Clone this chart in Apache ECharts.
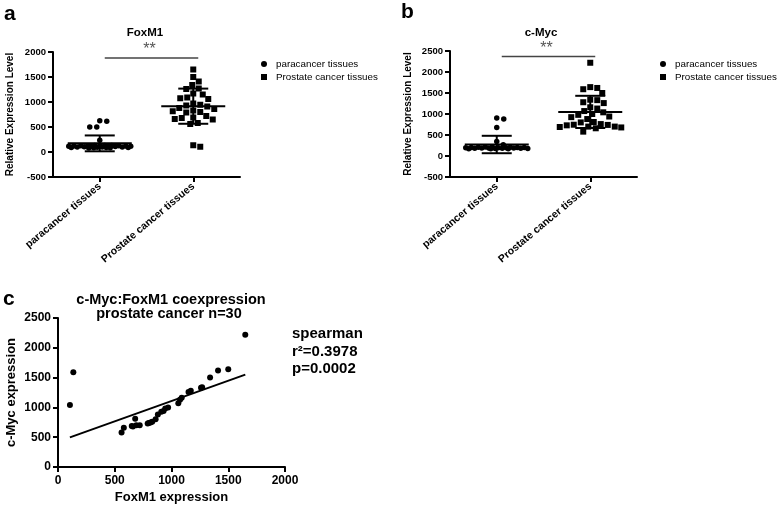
<!DOCTYPE html>
<html><head><meta charset="utf-8">
<script src="https://cdn.jsdelivr.net/npm/echarts@6/dist/echarts.min.js"></script>
<style>html,body{margin:0;padding:0;background:#fff}#c{width:778px;height:505px}</style>
</head><body><div id="c"></div>
<script>
// ---------------- data ----------------
const categories = ['paracancer tissues', 'Prostate cancer tissues'];
const legendNames = ['paracancer tissues', 'Prostate cancer tissues'];

// Panel a: FoxM1 relative expression
const paraFoxM1 = [627, 614, 500, 500, 234,
  130, 130, 128, 126, 125, 124, 122, 120, 118, 116, 115, 112, 110, 108, 105, 102, 100, 98, 95, 92, 90, 88, 86, 84, 80];
// Panel b: c-Myc relative expression
const paraCMyc = [903, 879, 680, 347, 268,
  215, 212, 210, 208, 205, 202, 200, 198, 196, 194, 192, 190, 188, 186, 184, 182, 180, 178, 175, 172, 170];
// Prostate cancer tissues (paired, used in a, b and c)
const prostFoxM1 = [1650, 1500, 1410, 1340, 1270, 1260, 1170, 1150, 1090, 1075, 1060, 970, 945, 930, 910,
  880, 860, 830, 815, 800, 790, 720, 690, 680, 660, 650, 580, 560, 135, 105];
const prostCMyc = [2220, 1640, 1620, 1500, 1340, 1330, 1280, 1260, 1160, 1130, 1070, 1000, 980, 940, 925,
  880, 800, 760, 745, 740, 730, 700, 700, 810, 680, 690, 660, 580, 1590, 1040];

// axis ranges / ticks
const yRangeA = [-500, 2000, 500];
const yRangeB = [-500, 2500, 500];
const xRangeC = [0, 2000, 500];
const yRangeC = [0, 2500, 500];
const sigLevelA = 1880;
const sigLevelB = 2370;
const statLines = ['spearman', 'r²=0.3978', 'p=0.0002'];

// ---------------- helpers ----------------
const FONT = '"Liberation Sans", Arial, Helvetica, sans-serif';
const mean = a => a.reduce((s, v) => s + v, 0) / a.length;
const sdev = a => { const m = mean(a); return Math.sqrt(a.reduce((s, v) => s + (v - m) * (v - m), 0) / (a.length - 1)); };

const chart = echarts.init(document.getElementById('c'), null, {renderer: 'canvas'});

const axLine = {show: true, onZero: false, lineStyle: {color: '#000', width: 2}};
const axTick = {show: true, length: 5, lineStyle: {color: '#000', width: 2}};

function catAxis(gi) {
  return {type: 'category', gridIndex: gi, data: categories, boundaryGap: true,
    axisLine: axLine, axisTick: Object.assign({alignWithLabel: true}, axTick),
    axisLabel: {rotate: 40, fontSize: 10.5, fontWeight: 'bold', color: '#000', fontFamily: FONT, margin: 8},
    splitLine: {show: false}};
}
function valAxis(gi, r, fs, name, gap, nfs, isX) {
  return {type: 'value', gridIndex: gi, min: r[0], max: r[1], interval: r[2],
    axisLine: axLine, axisTick: axTick,
    axisLabel: {fontSize: fs, fontWeight: 'bold', color: '#000', fontFamily: FONT, margin: isX ? 8 : 7,
      formatter: v => String(v)},
    splitLine: {show: false},
    name: name, nameLocation: 'middle', nameGap: gap,
    nameTextStyle: {fontSize: nfs, fontWeight: 'bold', color: '#000', fontFamily: FONT}};
}

function errRender(params, api) {
  const c = api.value(0), m = api.value(1), s = api.value(2);
  const pm = api.coord([c, m]), pt = api.coord([c, m + s]), pb = api.coord([c, m - s]);
  const st = {stroke: '#000', lineWidth: 2};
  return {type: 'group', children: [
    {type: 'line', shape: {x1: pm[0] - 32, y1: pm[1], x2: pm[0] + 32, y2: pm[1]}, style: st},
    {type: 'line', shape: {x1: pt[0], y1: pt[1], x2: pb[0], y2: pb[1]}, style: st},
    {type: 'line', shape: {x1: pt[0] - 15, y1: pt[1], x2: pt[0] + 15, y2: pt[1]}, style: st},
    {type: 'line', shape: {x1: pb[0] - 15, y1: pb[1], x2: pb[0] + 15, y2: pb[1]}, style: st}
  ]};
}
function sigRender(params, api) {
  const y = api.value(1);
  const p0 = api.coord([0, y]), p1 = api.coord([1, y]);
  return {type: 'group', children: [
    {type: 'line', shape: {x1: p0[0] + 5, y1: p0[1], x2: p1[0] + 5, y2: p1[1]}, style: {stroke: '#444', lineWidth: 1.5}},
    {type: 'text', x: (p0[0] + p1[0]) / 2 + 3, y: p0[1] - 8,
      style: {text: '**', fill: '#555', font: '16px ' + FONT, align: 'center', verticalAlign: 'middle'}}
  ]};
}

// regression (least squares) for panel c
const mx = mean(prostFoxM1), my = mean(prostCMyc);
let sxy = 0, sxx = 0;
prostFoxM1.forEach((x, i) => { sxy += (x - mx) * (prostCMyc[i] - my); sxx += (x - mx) * (x - mx); });
const slope = sxy / sxx, icpt = my - slope * mx;
const xmin = Math.min(...prostFoxM1), xmax = Math.max(...prostFoxM1);

const scatterStyle = {color: '#000', opacity: 1};
function pts(vals, ci) { return vals.map(v => ({value: [ci, v]})); }

const legendCommon = {orient: 'vertical', itemWidth: 6, itemHeight: 6, itemGap: 3, selectedMode: false,
  textStyle: {fontSize: 9.8, color: '#000', fontFamily: FONT, padding: [0, 0, 0, 4]},
  data: [{name: legendNames[0], icon: 'circle'}, {name: legendNames[1], icon: 'rect'}]};

const option = {
  animation: false,
  backgroundColor: '#fff',
  grid: [
    {left: 53, top: 52, width: 187, height: 125},
    {left: 450, top: 51, width: 187, height: 126},
    {left: 58, top: 318, width: 227, height: 149}
  ],
  xAxis: [catAxis(0), catAxis(1), valAxis(2, xRangeC, 12, 'FoxM1 expression', 24, 13, true)],
  yAxis: [
    valAxis(0, yRangeA, 9.5, 'Relative Expression Level', 38, 10),
    valAxis(1, yRangeB, 9.5, 'Relative Expression Level', 37, 10),
    valAxis(2, yRangeC, 12, 'c-Myc expression', 40, 13)
  ],
  legend: [
    Object.assign({left: 256, top: 54}, legendCommon),
    Object.assign({left: 655, top: 54}, legendCommon)
  ],
  graphic: [
    {type: 'text', x: 4, y: 14, style: {text: 'a', font: 'bold 21px ' + FONT, fill: '#000', verticalAlign: 'middle'}},
    {type: 'text', x: 401, y: 12, style: {text: 'b', font: 'bold 21px ' + FONT, fill: '#000', verticalAlign: 'middle'}},
    {type: 'text', x: 3, y: 299, style: {text: 'c', font: 'bold 21px ' + FONT, fill: '#000', verticalAlign: 'middle'}},
    {type: 'text', x: 145, y: 33, style: {text: 'FoxM1', font: 'bold 11.5px ' + FONT, fill: '#000', align: 'center', verticalAlign: 'middle'}},
    {type: 'text', x: 541, y: 33, style: {text: 'c-Myc', font: 'bold 11.5px ' + FONT, fill: '#000', align: 'center', verticalAlign: 'middle'}},
    {type: 'text', x: 171, y: 300, style: {text: 'c-Myc:FoxM1 coexpression', font: 'bold 14.5px ' + FONT, fill: '#000', align: 'center', verticalAlign: 'middle'}},
    {type: 'text', x: 169, y: 314, style: {text: 'prostate cancer n=30', font: 'bold 14.5px ' + FONT, fill: '#000', align: 'center', verticalAlign: 'middle'}},
    {type: 'text', x: 292, y: 334, style: {text: statLines[0], font: 'bold 15px ' + FONT, fill: '#000', verticalAlign: 'middle'}},
    {type: 'text', x: 292, y: 352, style: {text: statLines[1], font: 'bold 15px ' + FONT, fill: '#000', verticalAlign: 'middle'}},
    {type: 'text', x: 292, y: 369, style: {text: statLines[2], font: 'bold 15px ' + FONT, fill: '#000', verticalAlign: 'middle'}}
  ],
  series: [
    {id: 'aPara', name: legendNames[0], type: 'scatter', xAxisIndex: 0, yAxisIndex: 0, symbol: 'circle', symbolSize: 5.5, itemStyle: scatterStyle, data: pts(paraFoxM1, 0)},
    {id: 'aPros', name: legendNames[1], type: 'scatter', xAxisIndex: 0, yAxisIndex: 0, symbol: 'rect', symbolSize: 6, itemStyle: scatterStyle, data: pts(prostFoxM1, 1)},
    {type: 'custom', xAxisIndex: 0, yAxisIndex: 0, renderItem: errRender, z: 5,
      data: [[0, mean(paraFoxM1), sdev(paraFoxM1)], [1, mean(prostFoxM1), sdev(prostFoxM1)]]},
    {type: 'custom', xAxisIndex: 0, yAxisIndex: 0, renderItem: sigRender, z: 5, data: [[0, sigLevelA]]},

    {id: 'bPara', name: legendNames[0], type: 'scatter', xAxisIndex: 1, yAxisIndex: 1, symbol: 'circle', symbolSize: 5.5, itemStyle: scatterStyle, data: pts(paraCMyc, 0)},
    {id: 'bPros', name: legendNames[1], type: 'scatter', xAxisIndex: 1, yAxisIndex: 1, symbol: 'rect', symbolSize: 6, itemStyle: scatterStyle, data: pts(prostCMyc, 1)},
    {type: 'custom', xAxisIndex: 1, yAxisIndex: 1, renderItem: errRender, z: 5,
      data: [[0, mean(paraCMyc), sdev(paraCMyc)], [1, mean(prostCMyc), sdev(prostCMyc)]]},
    {type: 'custom', xAxisIndex: 1, yAxisIndex: 1, renderItem: sigRender, z: 5, data: [[0, sigLevelB]]},

    {type: 'scatter', xAxisIndex: 2, yAxisIndex: 2, symbol: 'circle', symbolSize: 6, itemStyle: scatterStyle,
      data: prostFoxM1.map((x, i) => [x, prostCMyc[i]])},
    {type: 'line', xAxisIndex: 2, yAxisIndex: 2, symbol: 'none', lineStyle: {color: '#000', width: 2},
      data: [[xmin, icpt + slope * xmin], [xmax, icpt + slope * xmax]]}
  ]
};
chart.setOption(option);

// beeswarm horizontal offsets (layout only; values unchanged)
function swarm(values, yAxisIndex, d, W) {
  const ys = values.map(v => chart.convertToPixel({yAxisIndex: yAxisIndex}, v));
  const order = values.map((v, i) => i).sort((a, b) => values[b] - values[a]);
  const placed = [], off = new Array(values.length).fill(0);
  for (const i of order) {
    let best = 0, bestScore = -1, done = false;
    for (let k = 0; k <= W * 2 && !done; k++) {
      const cands = k === 0 ? [0] : [k * 0.5, -k * 0.5];
      for (const dx of cands) {
        let minD = Infinity;
        for (const p of placed) { const dd = Math.hypot(dx - p.x, ys[i] - p.y); if (dd < minD) minD = dd; }
        if (minD >= d) { best = dx; done = true; break; }
        if (minD > bestScore) { bestScore = minD; best = dx; }
      }
    }
    off[i] = best; placed.push({x: best, y: ys[i]});
  }
  return off;
}
function swarmData(vals, ci, yi) {
  const off = swarm(vals, yi, 7, 31);
  return vals.map((v, i) => ({value: [ci, v], symbolOffset: [off[i], 0]}));
}
chart.setOption({series: [
  {id: 'aPara', data: swarmData(paraFoxM1, 0, 0)},
  {id: 'aPros', data: swarmData(prostFoxM1, 1, 0)},
  {id: 'bPara', data: swarmData(paraCMyc, 0, 1)},
  {id: 'bPros', data: swarmData(prostCMyc, 1, 1)}
]});
</script>
</body></html>
